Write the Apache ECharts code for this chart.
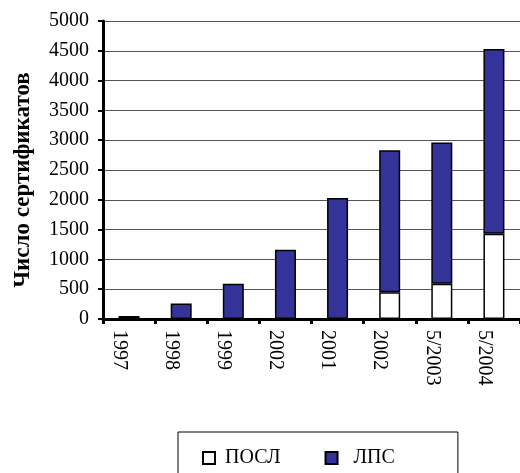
<!DOCTYPE html>
<html>
<head>
<meta charset="utf-8">
<script src="https://cdn.jsdelivr.net/npm/echarts@6/dist/echarts.min.js"></script>
<style>
  html, body { margin: 0; padding: 0; background: #fff; }
  #chart { width: 520px; height: 473px; }
</style>
</head>
<body>
<div id="chart"></div>
<script>
let categories = ['1997', '1998', '1999', '2002', '2001', '2002 ', '5/2003', '5/2004'];
let poslValues = [0, 0, 0, 0, 0, 450, 590, 1430];
let lpsValues = [50, 260, 590, 1160, 2030, 2380, 2370, 3100];
let seriesNames = ['ПОСЛ', 'ЛПС'];

let font = 'Liberation Serif, Times New Roman, serif';
let myChart = echarts.init(document.getElementById('chart'));

// zero parts are not drawn in the original
let hideZero = function (arr) {
    return arr.map(function (v) { return v > 0 ? v : null; });
};

let option = {
    animation: false,
    grid: {
        left: 103,
        top: 21,
        right: -8,
        bottom: 154
    },
    legend: {
        data: [
            { name: seriesNames[0], textStyle: { padding: [0, 0, 0, 5] } },
            { name: seriesNames[1], textStyle: { padding: [0, 0, 0, 11] } }
        ],
        left: 178,
        top: 432,
        icon: 'rect',
        itemWidth: 12,
        itemHeight: 12,
        itemGap: 44,
        borderColor: '#000',
        borderWidth: 1,
        padding: [16, 63, 40, 24],
        textStyle: {
            fontFamily: font,
            fontSize: 20,
            color: '#000'
        }
    },
    xAxis: {
        type: 'category',
        data: categories,
        axisLine: { lineStyle: { color: '#000', width: 3 } },
        axisTick: { show: true, length: 5, lineStyle: { color: '#000', width: 3 } },
        axisLabel: {
            rotate: -90,
            margin: 11,
            fontFamily: font,
            fontSize: 20,
            color: '#000',
            verticalAlign: 'top'
        }
    },
    yAxis: {
        type: 'value',
        min: 0,
        max: 5000,
        interval: 500,
        name: 'Число сертификатов',
        nameLocation: 'middle',
        nameGap: 68,
        nameTextStyle: {
            fontFamily: font,
            fontSize: 23,
            fontWeight: 'bold',
            color: '#000',
            padding: [0, 20, 0, 0]
        },
        axisLine: { show: true, lineStyle: { color: '#000', width: 3 } },
        axisTick: { show: true, length: 5, lineStyle: { color: '#000', width: 2 } },
        axisLabel: {
            margin: 14,
            fontFamily: font,
            fontSize: 20,
            color: '#000',
            formatter: function (v) { return String(v); }
        },
        splitLine: { lineStyle: { color: '#555', width: 1 } }
    },
    series: [
        {
            name: seriesNames[0],
            type: 'bar',
            stack: 'total',
            barWidth: 21,
            data: hideZero(poslValues),
            itemStyle: { color: '#ffffff', borderColor: '#000', borderWidth: 1.5 }
        },
        {
            name: seriesNames[1],
            type: 'bar',
            stack: 'total',
            barWidth: 21,
            data: lpsValues,
            itemStyle: { color: '#333399', borderColor: '#000', borderWidth: 1.5 }
        }
    ]
};
myChart.setOption(option);
</script>
</body>
</html>
